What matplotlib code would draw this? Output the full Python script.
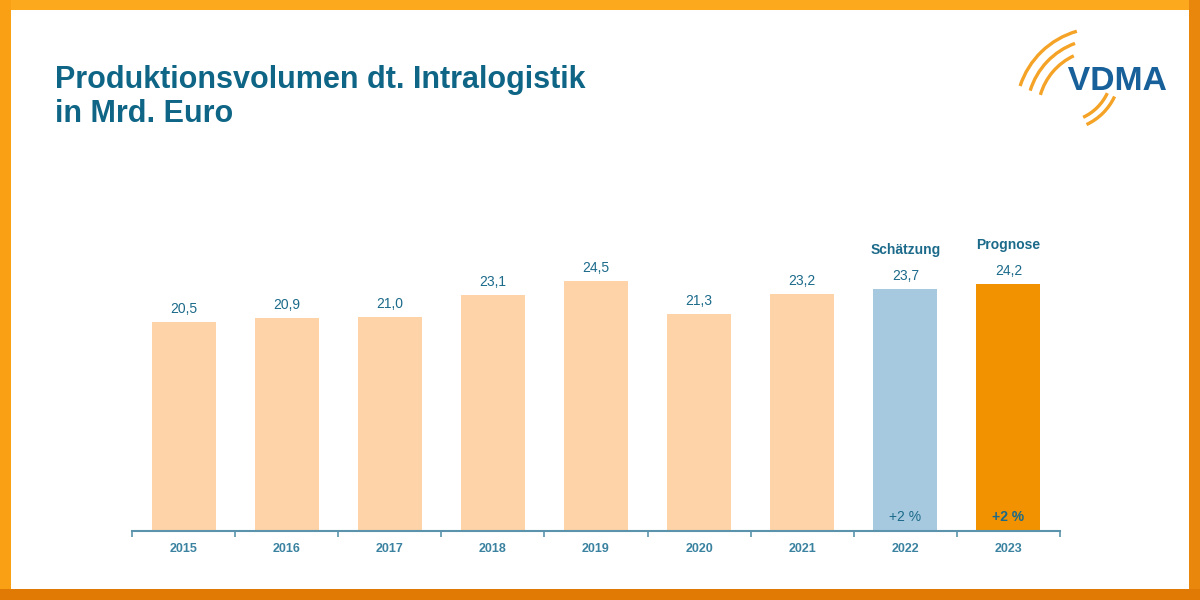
#!/usr/bin/env python3
# -*- coding: utf-8 -*-

import matplotlib
matplotlib.use("Agg")
import matplotlib.pyplot as plt
from matplotlib.patches import Rectangle, Arc, PathPatch
from matplotlib.textpath import TextPath
from matplotlib.font_manager import FontProperties
from matplotlib.transforms import Affine2D

plt.rcParams["font.family"] = ["Liberation Sans", "DejaVu Sans"]

# dados
anos = ["2015", "2016", "2017", "2018", "2019", "2020", "2021", "2022", "2023"]
valores = [20.5, 20.9, 21.0, 23.1, 24.5, 21.3, 23.2, 23.7, 24.2]
rotulos = ["20,5", "20,9", "21,0", "23,1", "24,5", "21,3", "23,2", "23,7", "24,2"]
cabecalhos = {7: "Schätzung", 8: "Prognose"}
crescimento = {7: "+2 %", 8: "+2 %"}

# cores
cor_claro = "#FDD3A7"
cor_est = "#A6C9DF"
cor_prog = "#F39200"
cor_texto = "#1B6A8A"
cor_titulo = "#0F6585"
cor_eixo = "#5A93AB"

cores = [cor_claro] * 7 + [cor_est, cor_prog]

fig = plt.figure(figsize=(12, 6), dpi=100)
fig.patch.set_facecolor("white")

# camada em pixels para moldura, título e logo
over = fig.add_axes([0, 0, 1, 1])
over.set_xlim(0, 1200)
over.set_ylim(600, 0)
over.axis("off")

# moldura laranja
over.add_patch(Rectangle((0, 0), 1200, 10, color="#FCA91E", lw=0))
over.add_patch(Rectangle((0, 0), 11, 600, color="#F9A015", lw=0))
over.add_patch(Rectangle((1189, 0), 11, 600, color="#E8870C", lw=0))
over.add_patch(Rectangle((0, 589), 1200, 11, color="#E17A05", lw=0))

# título
over.text(55, 88, "Produktionsvolumen dt. Intralogistik", fontsize=22,
          fontweight="bold", color=cor_titulo, va="baseline", ha="left")
over.text(55, 122, "in Mrd. Euro", fontsize=22,
          fontweight="bold", color=cor_titulo, va="baseline", ha="left")

# logo VDMA (texto esticado na horizontal)
tp = TextPath((0, 0), "VDMA", size=10,
              prop=FontProperties(family="Liberation Sans", weight="bold"))
ext = tp.get_extents()
sx = (1166 - 1068) / ext.width
sy = (90 - 67) / ext.height
trans = Affine2D().translate(-ext.x0, -ext.y0).scale(sx, -sy).translate(1068, 90)
over.add_patch(PathPatch(trans.transform_path(tp), color="#17609A", lw=0))
for r, t1, t2 in [(84, 106, 162), (73, 110, 163), (62, 115, 164)]:
    over.add_patch(Arc((1100, 112), 2 * r, 2 * r, theta1=360 - t2, theta2=360 - t1,
                       color="#F4A326", lw=2.4))
for r in [50, 58]:
    over.add_patch(Arc((1062, 72), 2 * r, 2 * r, theta1=25, theta2=65,
                       color="#F4A326", lw=2.4))

# gráfico de barras
ax = fig.add_axes([132 / 1200, 69 / 600, 928 / 1200, 306 / 600])
ax.patch.set_alpha(0)
x = list(range(len(anos)))
barras = ax.bar(x, valores, width=0.62, color=cores, zorder=2)

ax.set_xlim(-0.5, len(anos) - 0.5)
ax.set_ylim(0, 30)

for i, b in enumerate(barras):
    ax.annotate(rotulos[i], (b.get_x() + b.get_width() / 2, b.get_height()),
                xytext=(0, 9.5), textcoords="offset points",
                ha="center", va="center", fontsize=10, color=cor_texto)
    if i in cabecalhos:
        ax.annotate(cabecalhos[i], (b.get_x() + b.get_width() / 2, b.get_height()),
                    xytext=(0, 28.5), textcoords="offset points",
                    ha="center", va="center", fontsize=10, fontweight="bold",
                    color=cor_texto)
    if i in crescimento:
        ax.annotate(crescimento[i], (b.get_x() + b.get_width() / 2, 0),
                    xytext=(0, 10), textcoords="offset points",
                    ha="center", va="center", fontsize=10, color=cor_texto,
                    fontweight="bold" if i == 8 else "normal")

for s in ["top", "right", "left"]:
    ax.spines[s].set_visible(False)
ax.spines["bottom"].set_color(cor_eixo)
ax.spines["bottom"].set_linewidth(1.5)
ax.spines["bottom"].set_zorder(3)

ax.set_yticks([])
ax.set_xticks(x)
ax.set_xticklabels(anos, fontsize=9, color="#3A82A0", fontweight="bold")
ax.set_xticks([i - 0.5 for i in range(len(anos) + 1)], minor=True)
ax.tick_params(axis="x", which="major", length=0, pad=9)
ax.tick_params(axis="x", which="minor", length=4, width=1.2, color=cor_eixo, direction="out")

plt.savefig("out.png", dpi=100, facecolor="white")
